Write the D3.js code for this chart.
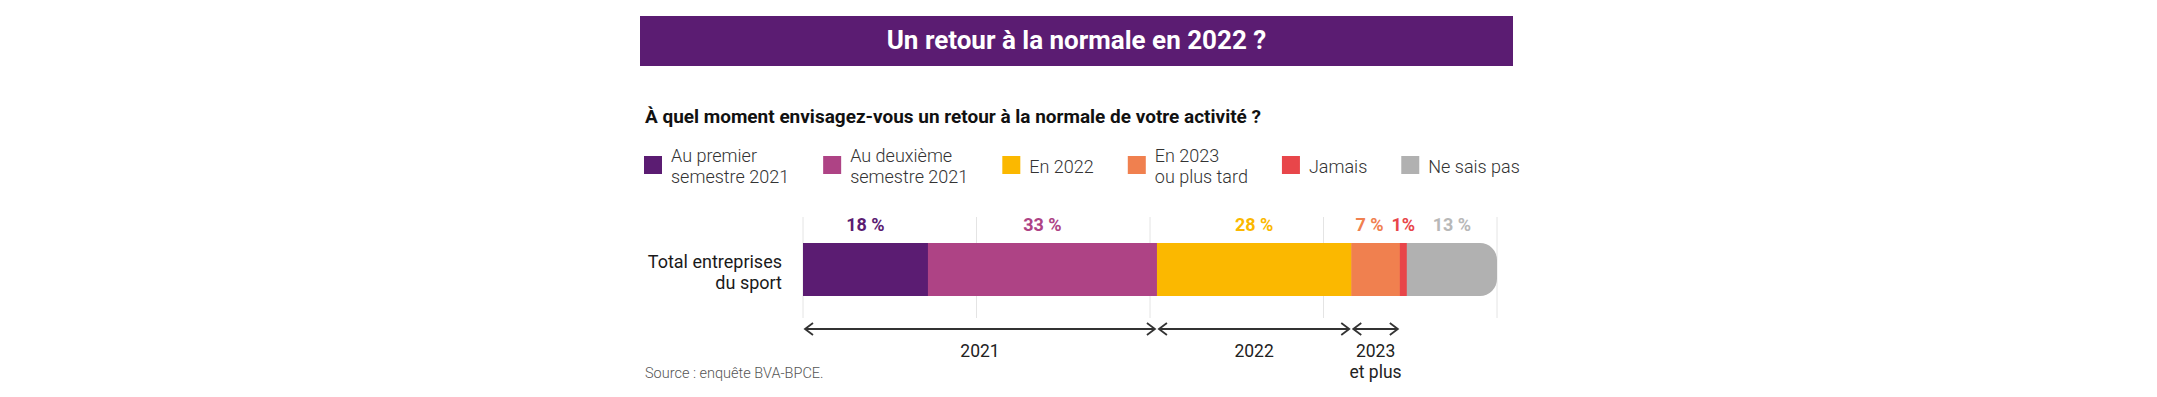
<!DOCTYPE html>
<html>
<head>
<meta charset="utf-8">
<script src="https://cdn.jsdelivr.net/npm/d3@7"></script>
<style>
  body { margin: 0; background: #fff; }
  svg text { font-family: Roboto, "Noto Sans", sans-serif; }
</style>
</head>
<body>
<div class="chart"></div>
<script>
// data
const title = "Un retour à la normale en 2022 ?"
const question = "À quel moment envisagez-vous un retour à la normale de votre activité ?"
const source = "Source : enquête BVA-BPCE."
const category = ["Total entreprises", "du sport"]
const series = [
    ["Au premier", "semestre 2021"],
    ["Au deuxième", "semestre 2021"],
    ["En 2022"],
    ["En 2023", "ou plus tard"],
    ["Jamais"],
    ["Ne sais pas"]
]
const values = [18, 33, 28, 7, 1, 13]
const value_labels = ["18 %", "33 %", "28 %", "7 %", "1%", "13 %"]
const colors = ["#5b1c72", "#ae4385", "#fbb800", "#f0804f", "#e8464a", "#b1b1b1"]
const label_colors = ["#5b1c72", "#ae4385", "#fbb800", "#f0804f", "#e8464a", "#b8b8b8"]
const grid_ticks = [0, 25, 50, 75, 100]
// periods: which series each arrow covers
const periods = [
    { label: ["2021"], first: 0, last: 1 },
    { label: ["2022"], first: 2, last: 2 },
    { label: ["2023", "et plus"], first: 3, last: 3 }
]

const chart_param = {
    width: 2157,
    height: 397,
    banner: { left: 640, right: 1513, top: 16, bottom: 66 },
    left: 645,
    bar: { left: 803, right: 1497, top: 243, height: 53, radius: 17 }
}

const svg = d3.select(".chart").append("svg")
    .attr("width", chart_param.width)
    .attr("height", chart_param.height)

const x = d3.scaleLinear()
    .domain([0, 100])
    .range([chart_param.bar.left, chart_param.bar.right])

// cumulative starts
const starts = values.map((v, i) => d3.sum(values.slice(0, i)))

// fit text into a width (the original uses a narrow face)
const fit = (sel, w) => {
    const len = sel.node().getComputedTextLength()
    if (len > w) sel.attr("textLength", w).attr("lengthAdjust", "spacingAndGlyphs")
}

// banner
const b = chart_param.banner
svg.append("rect")
    .attr("x", b.left).attr("y", b.top)
    .attr("width", b.right - b.left).attr("height", b.bottom - b.top)
    .attr("fill", "#5b1c72")
const t = svg.append("text")
    .attr("x", (b.left + b.right) / 2).attr("y", 48.5)
    .attr("text-anchor", "middle")
    .attr("fill", "#fff")
    .style("font-size", "26px").style("font-weight", 700)
    .text(title)
fit(t, 388)

const q = svg.append("text")
    .attr("x", chart_param.left).attr("y", 123)
    .attr("fill", "#111")
    .style("font-size", "19px").style("font-weight", 700)
    .text(question)
fit(q, 616)

// legend, flowed left to right
let lx = 644
series.forEach((lines, i) => {
    const g = svg.append("g").attr("transform", `translate(${lx},156)`)
    g.append("rect").attr("width", 18).attr("height", 18).attr("fill", colors[i])
    const txt = g.append("text")
        .attr("x", 27)
        .attr("fill", "#333")
        .style("font-size", "18px").style("font-weight", 300)
    txt.selectAll("tspan").data(lines).enter().append("tspan")
        .attr("x", 27)
        .attr("y", (d, j) => lines.length == 1 ? 16.5 : 6 + j * 20.5)
        .text(d => d)
    lx += 27 + txt.node().getBBox().width + 34
})

// grid
svg.selectAll(".grid")
    .data(grid_ticks).enter()
    .append("line")
    .classed("grid", true)
    .attr("x1", d => x(d)).attr("x2", d => x(d))
    .attr("y1", 217).attr("y2", 318)
    .style("stroke", "#e4e4e4").style("stroke-width", 1)

// bar, clipped so only the right end is rounded
const bar = chart_param.bar
const r = bar.radius
svg.append("clipPath").attr("id", "bar-clip")
    .append("path")
    .attr("d", `M${bar.left},${bar.top}H${bar.right - r}A${r},${r} 0 0 1 ${bar.right},${bar.top + r}` +
        `V${bar.top + bar.height - r}A${r},${r} 0 0 1 ${bar.right - r},${bar.top + bar.height}H${bar.left}Z`)

svg.append("g").attr("clip-path", "url(#bar-clip)")
    .selectAll(".seg")
    .data(values).enter()
    .append("rect")
    .classed("seg", true)
    .attr("x", (d, i) => x(starts[i]))
    .attr("y", bar.top)
    .attr("width", (d, i) => x(starts[i] + d) - x(starts[i]) + (i < values.length - 1 ? 0.5 : 0))
    .attr("height", bar.height)
    .attr("fill", (d, i) => colors[i])

// value labels above the bar
const labels = svg.selectAll(".val")
    .data(values).enter()
    .append("text")
    .classed("val", true)
    .attr("x", (d, i) => x(starts[i] + d / 2))
    .attr("y", 231)
    .attr("text-anchor", "middle")
    .attr("fill", (d, i) => label_colors[i])
    .style("font-size", "18px").style("font-weight", 700)
    .text((d, i) => value_labels[i])

// nudge crowded small labels apart
const boxes = labels.nodes().map(n => n.getBBox())
for (let i = boxes.length - 2; i >= 0; i--) {
    const overlap = boxes[i].x + boxes[i].width + 8 - boxes[i + 1].x
    if (overlap > 0) {
        boxes[i].x -= overlap
        d3.select(labels.nodes()[i]).attr("x", +labels.nodes()[i].getAttribute("x") - overlap)
    }
}

// category label
svg.append("text")
    .attr("x", 782)
    .attr("text-anchor", "end")
    .attr("fill", "#1a1a1a")
    .style("font-size", "18px")
    .selectAll("tspan").data(category).enter().append("tspan")
    .attr("x", 782)
    .attr("y", (d, i) => 268 + i * 20.5)
    .text(d => d)

// period arrows
const ay = 329
const arrows = svg.selectAll(".period")
    .data(periods).enter()
    .append("g").classed("period", true)
arrows.each(function (p) {
    const g = d3.select(this)
    const x0 = x(starts[p.first]) + 2
    const x1 = x(starts[p.last] + values[p.last]) - 2
    g.append("path")
        .attr("d", `M${x0},${ay}H${x1}M${x0 + 8},${ay - 6}L${x0},${ay}L${x0 + 8},${ay + 6}` +
            `M${x1 - 8},${ay - 6}L${x1},${ay}L${x1 - 8},${ay + 6}`)
        .attr("fill", "none")
        .style("stroke", "#333").style("stroke-width", 1.8)
    g.append("text")
        .attr("text-anchor", "middle")
        .attr("fill", "#222")
        .style("font-size", "17.5px")
        .selectAll("tspan").data(p.label).enter().append("tspan")
        .attr("x", (x0 + x1) / 2)
        .attr("y", (d, i) => 357 + i * 20.5)
        .text(d => d)
})

svg.append("text")
    .attr("x", chart_param.left).attr("y", 378)
    .attr("fill", "#555")
    .style("font-size", "14.5px").style("font-weight", 300)
    .text(source)
</script>
</body>
</html>
